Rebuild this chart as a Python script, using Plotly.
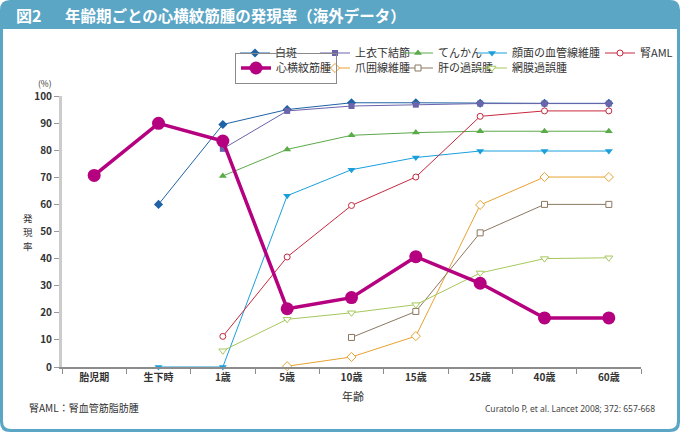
import plotly.graph_objects as go

categories = ["胎児期", "生下時", "1歳", "5歳", "10歳", "15歳", "25歳", "40歳", "60歳"]

hakuhan = [None, 60, 89.5, 95, 97.5, 97.5, 97.3, 97.3, 97.3]
jouikakessetsu = [None, None, 80.5, 94.5, 96.3, 96.8, 97.2, 97.2, 97.2]
tenkan = [None, None, 70.5, 80.3, 85.5, 86.5, 87, 87, 87]
ganmen = [None, 0, 0, 63.2, 72.8, 77.3, 79.7, 79.7, 79.7]
jin_aml = [None, None, 11.3, 40.6, 59.6, 70.1, 92.5, 94.5, 94.5]
shin_oumon = [70.7, 89.9, 83.4, 21.5, 25.6, 40.7, 30.9, 18.1, 18.1]
souisen = [None, None, None, 0.3, 3.7, 11.4, 59.8, 70.1, 70.1]
kan_kago = [None, None, None, None, 10.9, 20.5, 49.5, 60, 60]
moumaku = [None, None, 6.0, 17.6, 20, 23, 34.7, 40, 40.3]

FONT = "Noto Sans CJK JP"
W, H = 680, 432
ML, MR, MT, MB = 62, 39, 96, 65
PW = W - ML - MR
PH = H - MT - MB


def px(x):
    return (x - ML) / PW


def py(y):
    return 1 - (y - MT) / PH


def rrect(x0, y0, x1, y1, rt, rb):
    pts = [
        ("M", [(x0 + rt, y0)]),
        ("L", [(x1 - rt, y0)]),
        ("Q", [(x1, y0), (x1, y0 + rt)]),
        ("L", [(x1, y1 - rb)]),
        ("Q", [(x1, y1), (x1 - rb, y1)]),
        ("L", [(x0 + rb, y1)]),
        ("Q", [(x0, y1), (x0, y1 - rb)]),
        ("L", [(x0, y0 + rt)]),
        ("Q", [(x0, y0), (x0 + rt, y0)]),
    ]
    s = ""
    for cmd, ps in pts:
        s += cmd + " ".join(f"{px(a):.5f},{py(b):.5f}" for a, b in ps) + " "
    return s + "Z"


series = [
    # name, values, color, symbol, fill, size, width
    ("白斑", hakuhan, "#1f63a6", "diamond", None, 7, 1),
    ("上衣下結節", jouikakessetsu, "#6a64aa", "square", None, 6, 1),
    ("てんかん", tenkan, "#5aaa48", "triangle-up", None, 7, 1),
    ("顔面の血管線維腫", ganmen, "#1a9fdc", "triangle-down", None, 7, 1),
    ("腎AML", jin_aml, "#c8283e", "circle", "white", 6, 1),
    ("爪囲線維腫", souisen, "#e8a232", "diamond", "white", 7, 1),
    ("肝の過誤腫", kan_kago, "#8c7862", "square", "white", 6, 1),
    ("網膜過誤腫", moumaku, "#a6c85c", "triangle-down", "white", 7, 1),
    ("心横紋筋腫", shin_oumon, "#b5007f", "circle", None, 13, 3.5),
]

legend_pos = {
    "白斑": (235, 53, 1),
    "上衣下結節": (315, 53, 2),
    "てんかん": (398, 53, 3),
    "顔面の血管線維腫": (472, 53, 4),
    "腎AML": (600, 53, 5),
    "心横紋筋腫": (235, 68, 6),
    "爪囲線維腫": (315, 68, 7),
    "肝の過誤腫": (398, 68, 8),
    "網膜過誤腫": (472, 68, 9),
}

fig = go.Figure()
layout_legends = {}
for name, vals, color, sym, fill, size, width in series:
    lx, ly, idx = legend_pos[name]
    lname = "legend" if idx == 1 else f"legend{idx}"
    marker = dict(symbol=sym, size=size, color=fill if fill else color,
                  line=dict(color=color, width=1 if fill else 0))
    fig.add_trace(go.Scatter(
        x=categories, y=vals, name=name, mode="lines+markers",
        line=dict(color=color, width=width), marker=marker,
        connectgaps=False, cliponaxis=False, legend=lname,
    ))
    layout_legends[lname] = dict(
        x=px(lx), y=py(ly), xanchor="left", yanchor="middle",
        bgcolor="rgba(0,0,0,0)",
        font=dict(family=FONT, size=11, color="#333333"),
        borderwidth=1 if name == "心横紋筋腫" else 0,
        bordercolor="#8a8a8a",
        tracegroupgap=0,
    )

BLUE = "#5ba5c5"
shapes = [
    dict(type="path", xref="paper", yref="paper", path=rrect(0, 0, 680, 432, 10, 10),
         fillcolor=BLUE, line=dict(width=0), layer="below"),
    dict(type="path", xref="paper", yref="paper", path=rrect(3, 29, 677, 429, 0, 8),
         fillcolor="white", line=dict(width=0), layer="below"),
]

annotations = [
    dict(text="<b>図2</b>", x=px(14), y=py(15), xanchor="left", yanchor="middle",
         font=dict(family=FONT, size=16, color="white")),
    dict(text="<b>年齢期ごとの心横紋筋腫の発現率（海外データ）</b>", x=px(63), y=py(15),
         xanchor="left", yanchor="middle", font=dict(family=FONT, size=15.5, color="white")),
    dict(text="(%)", x=px(45), y=py(83), xanchor="center", yanchor="middle",
         font=dict(family=FONT, size=8.5, color="#333333")),
    dict(text="年齢", x=px(353), y=py(396), xanchor="center", yanchor="middle",
         font=dict(family=FONT, size=11, color="#333333")),
    dict(text="腎AML：腎血管筋脂肪腫", x=px(27), y=py(407), xanchor="left", yanchor="middle",
         font=dict(family=FONT, size=10, color="#333333")),
    dict(text="Curatolo P, et al. Lancet 2008; 372: 657-668", x=px(657), y=py(408),
         xanchor="right", yanchor="middle",
         font=dict(family="Noto Sans", size=8.5, color="#444444")),
]
for i, ch in enumerate("発現率"):
    annotations.append(dict(text=ch, x=px(28), y=py(218 + 14 * i), xanchor="center",
                            yanchor="middle", borderpad=0,
                            font=dict(family=FONT, size=9.5, color="#333333")))
for a in annotations:
    a.update(xref="paper", yref="paper", showarrow=False)

fig.update_layout(
    width=W, height=H,
    margin=dict(l=ML, r=MR, t=MT, b=MB, pad=0, autoexpand=False),
    paper_bgcolor="white",
    plot_bgcolor="rgba(0,0,0,0)",
    font=dict(family=FONT, color="#333333"),
    shapes=shapes,
    annotations=annotations,
    showlegend=True,
    **layout_legends,
)
fig.update_xaxes(
    type="category", categoryorder="array", categoryarray=categories,
    range=[-0.5, 8.5], showgrid=False, zeroline=False, automargin=False,
    showline=True, linecolor="#8c8c8c", linewidth=1.5,
    ticks="outside", tickson="boundaries", ticklen=5, tickcolor="#8c8c8c", tickwidth=1,
    tickfont=dict(family=FONT, size=10, color="#333333", weight="bold"),
)
fig.update_yaxes(
    range=[0, 100], dtick=10, showgrid=False, zeroline=False, automargin=False,
    showline=True, linecolor="#cccccc", linewidth=3,
    ticks="outside", ticklen=5, tickcolor="#999999", tickwidth=1,
    tickfont=dict(family=FONT, size=10, color="#333333", weight="bold"),
)

fig.write_html(
    "out.html",
    config={"displayModeBar": False},
    post_script="document.body.style.margin='0';document.body.style.overflow='hidden';",
)
